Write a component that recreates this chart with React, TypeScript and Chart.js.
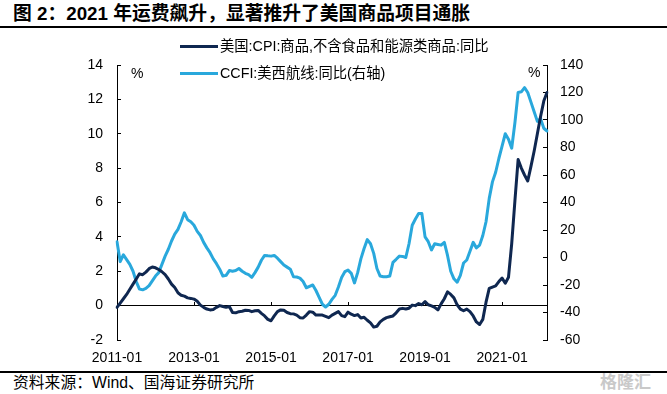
import React, { useEffect, useRef } from "react";
import { Chart, registerables } from "chart.js";

Chart.register(...registerables);

const START_YEAR = 2011;
const MONTH_COUNT = 135;
const months: string[] = Array.from({ length: MONTH_COUNT }, (_, i) =>
  `${START_YEAR + Math.floor(i / 12)}-${String((i % 12) + 1).padStart(2, "0")}`
);

const xTickLabels = ["2011-01", "2013-01", "2015-01", "2017-01", "2019-01", "2021-01"];

const seriesNames = [
  "美国:CPI:商品,不含食品和能源类商品:同比",
  "CCFI:美西航线:同比(右轴)",
];

// 美国 CPI 核心商品 同比 (%), left axis
const cpiGoods = [
  -0.1, 0.15, 0.4, 0.65, 0.95, 1.25, 1.55, 1.85, 1.8, 1.95, 2.15, 2.25,
  2.2, 2.1, 1.97, 1.8, 1.55, 1.25, 1.05, 0.75, 0.6, 0.55, 0.45, 0.42,
  0.38, 0.25, 0.03, -0.1, -0.2, -0.25, -0.22, -0.1, 0.0, -0.05, -0.1, -0.05,
  -0.4, -0.42, -0.35, -0.33, -0.27, -0.28, -0.35, -0.3, -0.28, -0.45, -0.6, -0.8,
  -0.88, -0.6, -0.35, -0.25, -0.27, -0.4, -0.47, -0.48, -0.55, -0.7, -0.72, -0.55,
  -0.35, -0.38, -0.55, -0.55, -0.55, -0.62, -0.7, -0.55, -0.45, -0.35, -0.58, -0.64,
  -0.38, -0.5, -0.58, -0.52, -0.72, -0.68, -0.85, -1.0, -1.25, -1.2, -0.95, -0.8,
  -0.7, -0.65, -0.6, -0.42, -0.2, -0.16, -0.2, -0.15, 0.03, 0.0, 0.12, 0.05,
  0.23, 0.05, -0.02, -0.1, -0.25, 0.1, 0.4, 0.8, 0.65, 0.45, 0.05, -0.2,
  -0.3, -0.2, -0.35, -0.6, -0.95, -1.1, -0.8, 0.2, 1.0, 1.08, 1.15, 1.4,
  1.6, 1.3, 1.65, 3.6, 6.1, 8.5, 8.0, 7.6, 7.25, 8.1, 9.0, 10.0,
  11.0, 11.9, 12.4,
];

// CCFI 美西航线 同比 (%), right axis
const ccfiUSWest = [
  11.5, -3, 2, -1.5, -5, -10, -17.5, -23, -23.5, -22.5, -20.5, -17,
  -13.5, -11, -5, 1, 6, 12, 17, 20.5, 26, 32.5, 27.5, 26,
  23.5, 19, 16, 11, 7, 3.5, -1, -4.5, -8.5, -13.5, -13, -9.5,
  -10, -9.5, -8, -10, -11.5, -12.5, -14.4, -11, -7, -2, 1.5, 1.2,
  1, 1.5, -0.5, -3, -5.5, -7, -8.5, -14, -14.2, -15, -17.5, -22,
  -21, -20, -24, -29, -34, -36, -34, -30.5, -27.5, -21.5, -14.5, -10.3,
  -9.2, -11.5, -18.5, -11, -1, 6.5, 13, 10, 3, -8, -13.5, -14,
  -14, -13.5, -3.5, -1.3, 1, 0.8, 0, 10, 23.5, 28, 32, 32,
  15, 11.5, 5.5, 10, 9.5, 9, 11, 1.5, -10, -15.5, -18, -13,
  -4, -1.8, 4.5, 11, 7, 9, 16, 26, 43, 55, 62, 72,
  81, 90, 86, 79.5, 98, 120, 120.5, 123.5, 120, 113, 106, 99,
  101, 94, 92,
];

const leftAxis = { min: -2, max: 14, step: 2 };
const rightAxis = { min: -60, max: 140, step: 20 };

const NAVY = "#0f2750";
const CYAN = "#29a8dc";
const LATIN_CJK = "'Liberation Sans', Arial, 'Noto Sans CJK SC', sans-serif";

const tickFilter = (axis: any) => {
  axis.ticks = axis.ticks.filter((t: any) => xTickLabels.includes(months[t.value]));
};

export default function App() {
  const ref = useRef<HTMLCanvasElement | null>(null);

  useEffect(() => {
    if (!ref.current) return;
    Chart.defaults.font.family = "'Liberation Sans', Arial, sans-serif";
    const axisGrid = {
      drawOnChartArea: false,
      drawTicks: true,
      tickLength: -4,
      color: "#000",
      lineWidth: 1,
    };
    const chart = new Chart(ref.current, {
      type: "line",
      data: {
        labels: months,
        datasets: [
          {
            label: seriesNames[0],
            data: cpiGoods,
            borderColor: NAVY,
            backgroundColor: NAVY,
            borderWidth: 3,
            pointRadius: 0,
            tension: 0,
            borderJoinStyle: "round",
            borderCapStyle: "round",
            xAxisID: "x",
            yAxisID: "y",
          },
          {
            label: seriesNames[1],
            data: ccfiUSWest,
            borderColor: CYAN,
            backgroundColor: CYAN,
            borderWidth: 3,
            pointRadius: 0,
            tension: 0,
            borderJoinStyle: "round",
            borderCapStyle: "round",
            xAxisID: "x",
            yAxisID: "y1",
          },
        ],
      },
      options: {
        animation: false,
        responsive: false,
        events: [],
        layout: { padding: { top: 41, left: 77, right: 70, bottom: 0 } },
        plugins: {
          legend: { display: false },
          tooltip: { enabled: false },
          title: { display: false },
        },
        scales: {
          x: {
            type: "category",
            position: "bottom",
            afterBuildTicks: tickFilter,
            afterFit: (s: any) => {
              s.height = 30;
            },
            grid: { display: false, drawTicks: false },
            border: { display: false },
            ticks: {
              autoSkip: false,
              maxRotation: 0,
              padding: 10,
              color: "#000",
              font: { size: 14 },
            },
          },
          x0: {
            type: "category",
            position: { y: 0 },
            afterBuildTicks: tickFilter,
            afterFit: (s: any) => {
              s.height = 0;
            },
            grid: axisGrid,
            border: { display: true, color: "#000", width: 1 },
            ticks: { display: false, autoSkip: false },
          },
          y: {
            position: "left",
            min: leftAxis.min,
            max: leftAxis.max,
            afterFit: (s: any) => {
              s.width = 40;
            },
            ticks: { stepSize: leftAxis.step, padding: 18, color: "#000", font: { size: 14 } },
            grid: axisGrid,
            border: { display: true, color: "#000", width: 1 },
          },
          y1: {
            position: "right",
            min: rightAxis.min,
            max: rightAxis.max,
            afterFit: (s: any) => {
              s.width = 50;
            },
            ticks: { stepSize: rightAxis.step, padding: 17, color: "#000", font: { size: 14 } },
            grid: axisGrid,
            border: { display: true, color: "#000", width: 1 },
          },
        },
      } as any,
    });
    return () => chart.destroy();
  }, []);

  const abs = (s: React.CSSProperties): React.CSSProperties => ({ position: "absolute", ...s });

  return (
    <div
      style={{
        position: "fixed",
        left: 0,
        top: 0,
        width: 667,
        height: 394,
        background: "#fff",
        overflow: "hidden",
        fontFamily: LATIN_CJK,
        color: "#000",
      }}
    >
      <div
        style={abs({
          left: 13,
          top: 3,
          fontSize: 18.8,
          lineHeight: "22px",
          fontWeight: 700,
          whiteSpace: "nowrap",
        })}
      >
        图 2：2021 年运费飙升，显著推升了美国商品项目通胀
      </div>
      <div style={abs({ left: 0, top: 26, width: 667, height: 2, background: "#000" })} />

      <div style={abs({ left: 0, top: 24, width: 667, height: 346 })}>
        <canvas ref={ref} width={667} height={346} style={{ display: "block" }} />
      </div>

      <div style={abs({ left: 180, top: 44.5, width: 38, height: 3, background: NAVY })} />
      <div style={abs({ left: 220, top: 37, fontSize: 14.3, lineHeight: "18px", whiteSpace: "nowrap" })}>
        {seriesNames[0]}
      </div>
      <div style={abs({ left: 180, top: 71.5, width: 38, height: 3, background: CYAN })} />
      <div style={abs({ left: 220, top: 64, fontSize: 14.3, lineHeight: "18px", whiteSpace: "nowrap" })}>
        {seriesNames[1]}
      </div>

      <div style={abs({ left: 131, top: 64, fontSize: 14, lineHeight: "18px" })}>%</div>
      <div style={abs({ left: 528, top: 63, fontSize: 14, lineHeight: "18px" })}>%</div>

      <div style={abs({ left: 0, top: 371, width: 667, height: 1.5, background: "#000" })} />
      <div style={abs({ left: 13, top: 373, fontSize: 15.8, lineHeight: "19px", whiteSpace: "nowrap" })}>
        资料来源：Wind、国海证券研究所
      </div>
      <div
        style={abs({
          left: 600,
          top: 373,
          fontSize: 17,
          lineHeight: "20px",
          color: "#c9c9c9",
          whiteSpace: "nowrap",
          fontWeight: 700,
        })}
      >
        格隆汇
      </div>
    </div>
  );
}
